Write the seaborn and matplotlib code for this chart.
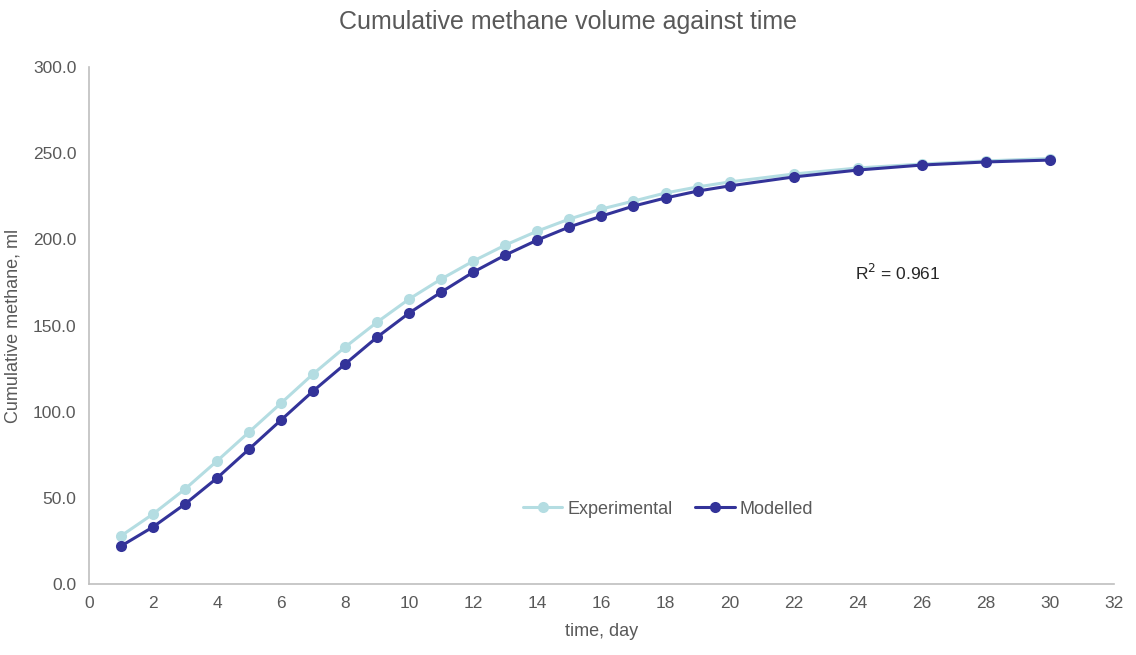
import matplotlib
matplotlib.use("Agg")
import matplotlib.pyplot as plt
import seaborn as sns
import pandas as pd
from matplotlib.ticker import FuncFormatter, MultipleLocator

# Time points (days)
days = [1, 2, 3, 4, 5, 6, 7, 8, 9, 10, 11, 12, 13, 14, 15, 16, 17, 18, 19, 20,
        22, 24, 26, 28, 30]

# Cumulative methane volume (ml)
experimental = [27.9, 40.6, 55.1, 71.4, 88.2, 105.0, 121.9, 137.5, 152.0, 165.4,
                177.0, 187.4, 196.7, 204.8, 211.8, 217.6, 222.2, 226.9, 230.4, 233.3,
                237.9, 241.4, 243.7, 245.5, 246.9]
modelled = [22.0, 33.1, 46.4, 61.5, 78.3, 95.2, 112.0, 127.7, 143.3, 157.3,
            169.4, 181.0, 190.9, 199.6, 207.2, 213.5, 219.3, 224.0, 228.0, 231.0,
            236.2, 240.2, 243.1, 244.9, 246.0]

series_names = ["Experimental", "Modelled"]
r_squared = 0.961

df = pd.DataFrame({
    "time": days * 2,
    "volume": experimental + modelled,
    "series": [series_names[0]] * len(days) + [series_names[1]] * len(days),
})

sns.set_style("white")
plt.rcParams["font.family"] = ["Liberation Sans", "DejaVu Sans"]

text_color = "#595959"
axis_color = "#BFBFBF"
palette = {"Experimental": "#B4DDE2", "Modelled": "#333399"}

fig = plt.figure(figsize=(11.36, 6.55), dpi=100)
ax = fig.add_axes([0.0783, 0.1084, 0.9023, 0.7893])

sns.lineplot(data=df, x="time", y="volume", hue="series", hue_order=series_names,
             palette=palette, marker="o", markersize=8, markeredgewidth=0,
             linewidth=2.2, ax=ax)

ax.set_xlim(0, 32)
ax.set_ylim(0, 300)
ax.xaxis.set_major_locator(MultipleLocator(2))
ax.yaxis.set_major_locator(MultipleLocator(50))
ax.yaxis.set_major_formatter(FuncFormatter(lambda v, p: f"{v:.1f}"))
ax.tick_params(axis="both", length=0, labelsize=12.5, colors=text_color, pad=9)

for side in ["top", "right"]:
    ax.spines[side].set_visible(False)
for side in ["left", "bottom"]:
    ax.spines[side].set_color(axis_color)
    ax.spines[side].set_linewidth(1.2)

ax.set_xlabel("time, day", fontsize=13, color=text_color, labelpad=8)
ax.set_ylabel("Cumulative methane, ml", fontsize=13, color=text_color, labelpad=8)
fig.suptitle("Cumulative methane volume against time", fontsize=18,
             color=text_color, y=0.985)

ax.text(23.9, 180.5, f"R$^2$ = {r_squared}", fontsize=12.5, color="#262626",
        va="center", ha="left")

leg = ax.legend(loc="center", bbox_to_anchor=(0.565, 0.145), ncol=2, frameon=False,
                fontsize=13, handlelength=2.2, columnspacing=1.2, handletextpad=0.3)
for t in leg.get_texts():
    t.set_color(text_color)

fig.savefig("out.png", dpi=100, facecolor="white")
